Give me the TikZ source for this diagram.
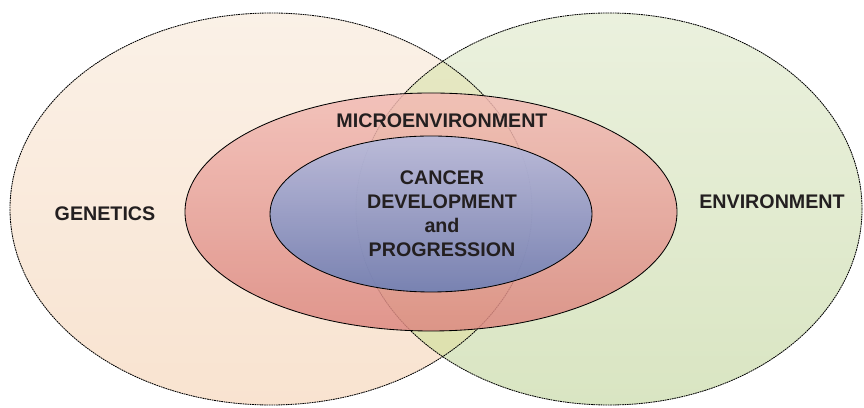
\documentclass[tikz,border=0pt]{standalone}
\usepackage{fontspec}
\setmainfont{Liberation Sans}
\usepackage{xcolor}
\usepackage{tikz}
\usetikzlibrary{positioning}

\definecolor{genetop}{HTML}{FAF1E7}
\definecolor{genebot}{HTML}{F9E3D0}
\definecolor{envtop}{HTML}{EBF1DE}
\definecolor{envbot}{HTML}{D9E5C2}
\definecolor{bothtop}{HTML}{E7E9C6}
\definecolor{bothbot}{HTML}{DCE0AB}
\definecolor{microtop}{HTML}{F2BBB4}
\definecolor{microbot}{HTML}{DC8880}
\definecolor{cancertop}{HTML}{B5BBDE}
\definecolor{cancerbot}{HTML}{6B7FB6}
\definecolor{inkdark}{HTML}{231F20}

\begin{document}
\begin{tikzpicture}[
    ovaltext/.style={font=\fontsize{14}{17}\selectfont\bfseries, text=inkdark, align=center},
    outline/.style={draw=black, line width=0.6pt, dash pattern=on 1.2pt off 0.5pt}
  ]
    \useasboundingbox (0,0) rectangle (21.6,10.2);

    % outer circles
    \shade[top color=genetop, bottom color=genebot] (6.775,4.975) ellipse [x radius=6.525, y radius=4.9];
    \shade[top color=envtop, bottom color=envbot] (15.225,4.975) ellipse [x radius=6.325, y radius=4.9];
    \begin{scope}
        \clip (6.775,4.975) ellipse [x radius=6.525, y radius=4.9];
        \shade[top color=bothtop, bottom color=bothbot] (15.225,4.975) ellipse [x radius=6.325, y radius=4.9];
    \end{scope}
    \draw[outline] (6.775,4.975) ellipse [x radius=6.525, y radius=4.9];
    \draw[outline] (15.225,4.975) ellipse [x radius=6.325, y radius=4.9];

    % inner circles
    \shade[top color=microtop, bottom color=microbot, fill opacity=0.85] (10.775,4.9) ellipse [x radius=6.15, y radius=2.975];
    \draw[black, line width=0.6pt] (10.775,4.9) ellipse [x radius=6.15, y radius=2.975];
    \shade[top color=cancertop, bottom color=cancerbot, fill opacity=0.88] (10.775,4.85) ellipse [x radius=4.025, y radius=1.95];
    \draw[black, line width=0.6pt] (10.775,4.85) ellipse [x radius=4.025, y radius=1.95];

    \node[ovaltext] (genetics) at (2.625,4.85) {GENETICS};
    \node[ovaltext] (environment) at (19.3,5.15) {ENVIRONMENT};
    \node[ovaltext] (micro) at (11.05,7.175) {MICROENVIRONMENT};
    \node[ovaltext] (cancer) at (11.05,4.85) {CANCER\\DEVELOPMENT\\and\\PROGRESSION};
\end{tikzpicture}
\end{document}
